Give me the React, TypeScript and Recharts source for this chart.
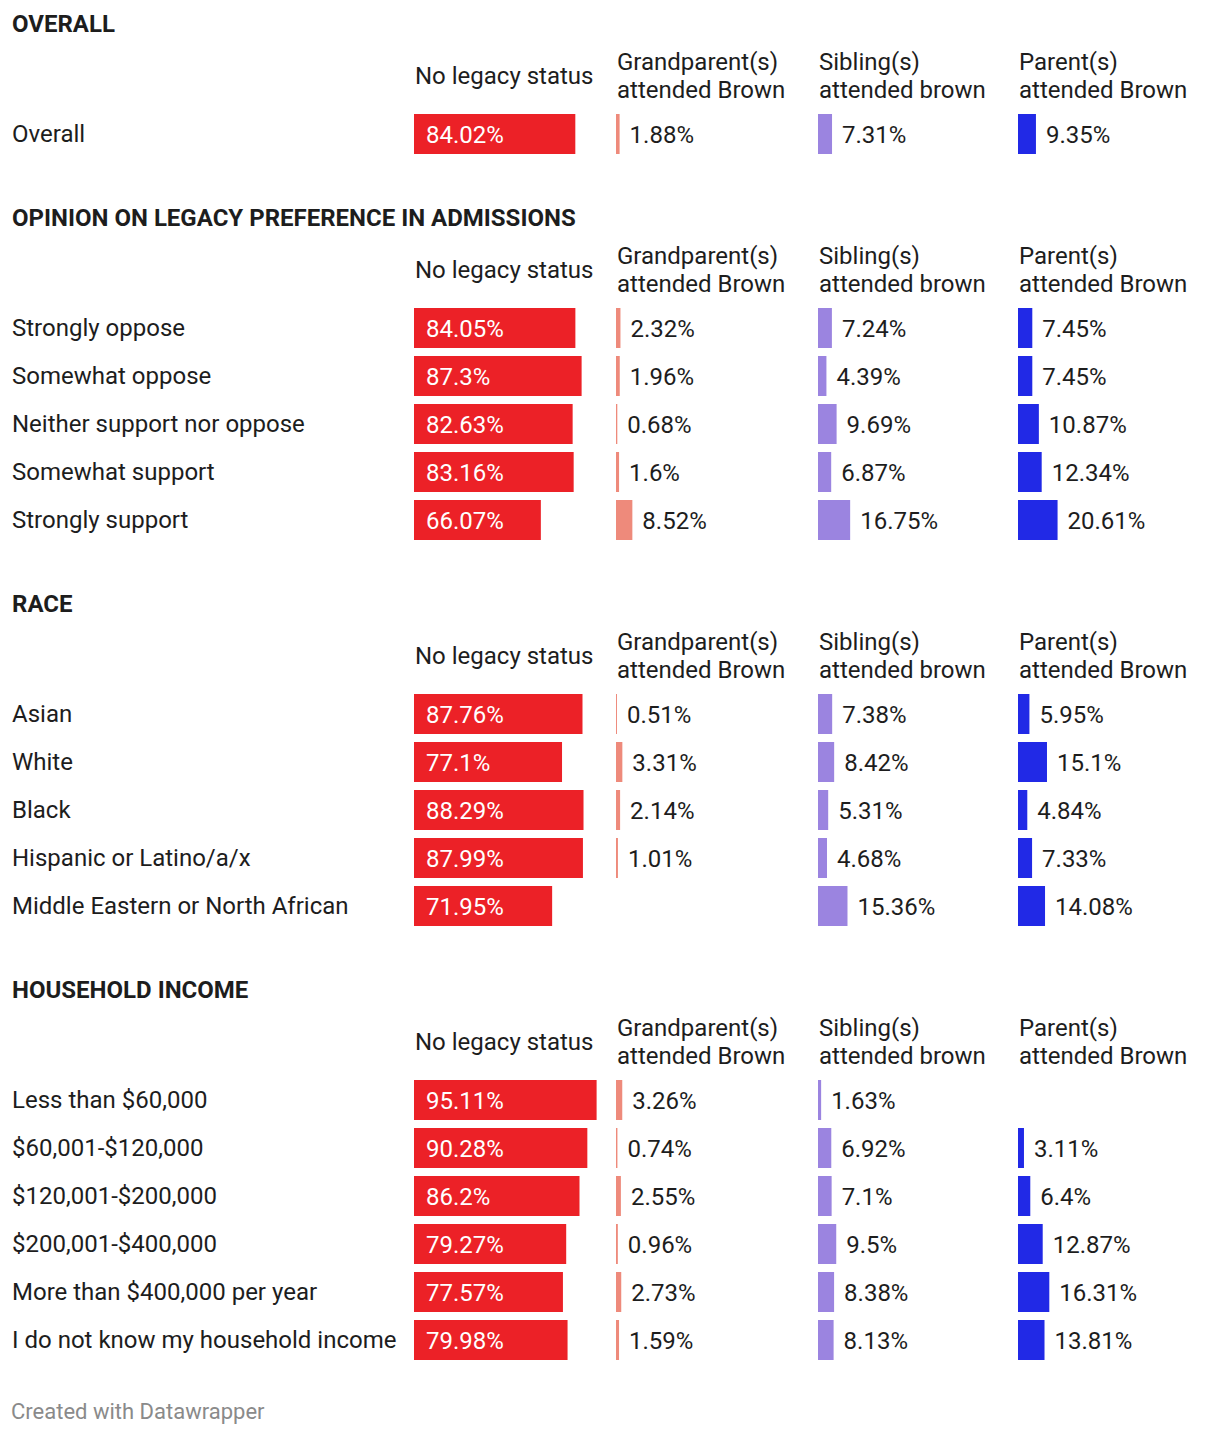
import React from 'react';
import { BarChart, Bar, XAxis, YAxis, LabelList } from 'recharts';

// ---------- DATA ----------
const columnHeaders: string[][] = [
  ['No legacy status'],
  ['Grandparent(s)', 'attended Brown'],
  ['Sibling(s)', 'attended brown'],
  ['Parent(s)', 'attended Brown'],
];
const columnColors = ['#ec2127', '#ee8a7b', '#9b84e0', '#2129e6'];

const overallTitle = 'OVERALL';
const overallRows = ['Overall'];
const overallNoLegacy = [84.02];
const overallGrandparent = [1.88];
const overallSibling = [7.31];
const overallParent = [9.35];

const opinionTitle = 'OPINION ON LEGACY PREFERENCE IN ADMISSIONS';
const opinionRows = ['Strongly oppose', 'Somewhat oppose', 'Neither support nor oppose', 'Somewhat support', 'Strongly support'];
const opinionNoLegacy = [84.05, 87.3, 82.63, 83.16, 66.07];
const opinionGrandparent = [2.32, 1.96, 0.68, 1.6, 8.52];
const opinionSibling = [7.24, 4.39, 9.69, 6.87, 16.75];
const opinionParent = [7.45, 7.45, 10.87, 12.34, 20.61];

const raceTitle = 'RACE';
const raceRows = ['Asian', 'White', 'Black', 'Hispanic or Latino/a/x', 'Middle Eastern or North African'];
const raceNoLegacy = [87.76, 77.1, 88.29, 87.99, 71.95];
const raceGrandparent: (number | null)[] = [0.51, 3.31, 2.14, 1.01, null];
const raceSibling = [7.38, 8.42, 5.31, 4.68, 15.36];
const raceParent = [5.95, 15.1, 4.84, 7.33, 14.08];

const incomeTitle = 'HOUSEHOLD INCOME';
const incomeRows = ['Less than $60,000', '$60,001-$120,000', '$120,001-$200,000', '$200,001-$400,000', 'More than $400,000 per year', 'I do not know my household income'];
const incomeNoLegacy = [95.11, 90.28, 86.2, 79.27, 77.57, 79.98];
const incomeGrandparent = [3.26, 0.74, 2.55, 0.96, 2.73, 1.59];
const incomeSibling = [1.63, 6.92, 7.1, 9.5, 8.38, 8.13];
const incomeParent: (number | null)[] = [null, 3.11, 6.4, 12.87, 16.31, 13.81];

const footerText = 'Created with Datawrapper';

const sections = [
  { title: overallTitle, rows: overallRows, cols: [overallNoLegacy, overallGrandparent, overallSibling, overallParent] },
  { title: opinionTitle, rows: opinionRows, cols: [opinionNoLegacy, opinionGrandparent, opinionSibling, opinionParent] },
  { title: raceTitle, rows: raceRows, cols: [raceNoLegacy, raceGrandparent, raceSibling, raceParent] },
  { title: incomeTitle, rows: incomeRows, cols: [incomeNoLegacy, incomeGrandparent, incomeSibling, incomeParent] },
];

// ---------- LAYOUT ----------
const FONT = 'Roboto, "Noto Sans", sans-serif';
const TEXT = '#1d1d1d';
const FS = 24;
const ROW_H = 48;
const COL_LEFT = [414, 616, 818, 1018];
const COL_W = 202;
const SCALE_W = 192; // pixels for 0..100%

function ColumnChart({ rows, values, color, inside }: { rows: string[]; values: (number | null)[]; color: string; inside: boolean }) {
  const data = rows.map((r, i) => ({ label: r, value: values[i] }));
  return (
    <BarChart
      width={COL_W}
      height={rows.length * ROW_H}
      data={data}
      layout="vertical"
      margin={{ top: 0, right: COL_W - SCALE_W, bottom: 0, left: 0 }}
      barCategoryGap={4}
    >
      <XAxis type="number" domain={[0, 100]} hide />
      <YAxis type="category" dataKey="label" hide />
      <Bar dataKey="value" fill={color} barSize={40} isAnimationActive={false}>
        <LabelList
          dataKey="value"
          position={inside ? 'insideLeft' : 'right'}
          offset={inside ? 12 : 10}
          formatter={(v: any) => (v == null ? '' : `${v}%`)}
          fill={inside ? '#ffffff' : TEXT}
          fontSize={FS}
          fontFamily={FONT}
        />
      </Bar>
    </BarChart>
  );
}

function Section({ title, rows, cols }: { title: string; rows: string[]; cols: (number | null)[][] }) {
  return (
    <div style={{ position: 'relative', height: 110 + rows.length * ROW_H, marginBottom: 36 }}>
      <div style={{ position: 'absolute', left: 12, top: 0, height: 48, lineHeight: '48px', fontWeight: 700, fontSize: FS, color: TEXT, whiteSpace: 'nowrap' }}>
        {title}
      </div>
      {columnHeaders.map((h, ci) => (
        <div
          key={ci}
          style={{
            position: 'absolute', left: COL_LEFT[ci] + 1, top: 48, height: 56, width: COL_W - 1,
            display: 'flex', flexDirection: 'column', justifyContent: 'center',
            fontSize: FS, lineHeight: '28px', color: TEXT, whiteSpace: 'nowrap',
          }}
        >
          {h.map((line, li) => (<div key={li}>{line}</div>))}
        </div>
      ))}
      <div style={{ position: 'absolute', left: 12, top: 110, width: 400 }}>
        {rows.map((r, ri) => (
          <div key={ri} style={{ height: ROW_H, lineHeight: `${ROW_H}px`, fontSize: FS, color: TEXT, whiteSpace: 'nowrap' }}>{r}</div>
        ))}
      </div>
      {cols.map((vals, ci) => (
        <div key={ci} style={{ position: 'absolute', left: COL_LEFT[ci], top: 110 }}>
          <ColumnChart rows={rows} values={vals} color={columnColors[ci]} inside={ci === 0} />
        </div>
      ))}
    </div>
  );
}

export default function App() {
  return (
    <div style={{ position: 'absolute', left: 0, top: 0, width: 1220, height: 1436, background: '#fff', fontFamily: FONT, overflow: 'hidden' }}>
      {sections.map((s, i) => (
        <Section key={i} title={s.title} rows={s.rows} cols={s.cols} />
      ))}
      <div style={{ position: 'absolute', left: 11, top: 1396, height: 32, lineHeight: '32px', fontSize: 22, color: '#8a8a8a' }}>
        {footerText}
      </div>
    </div>
  );
}
